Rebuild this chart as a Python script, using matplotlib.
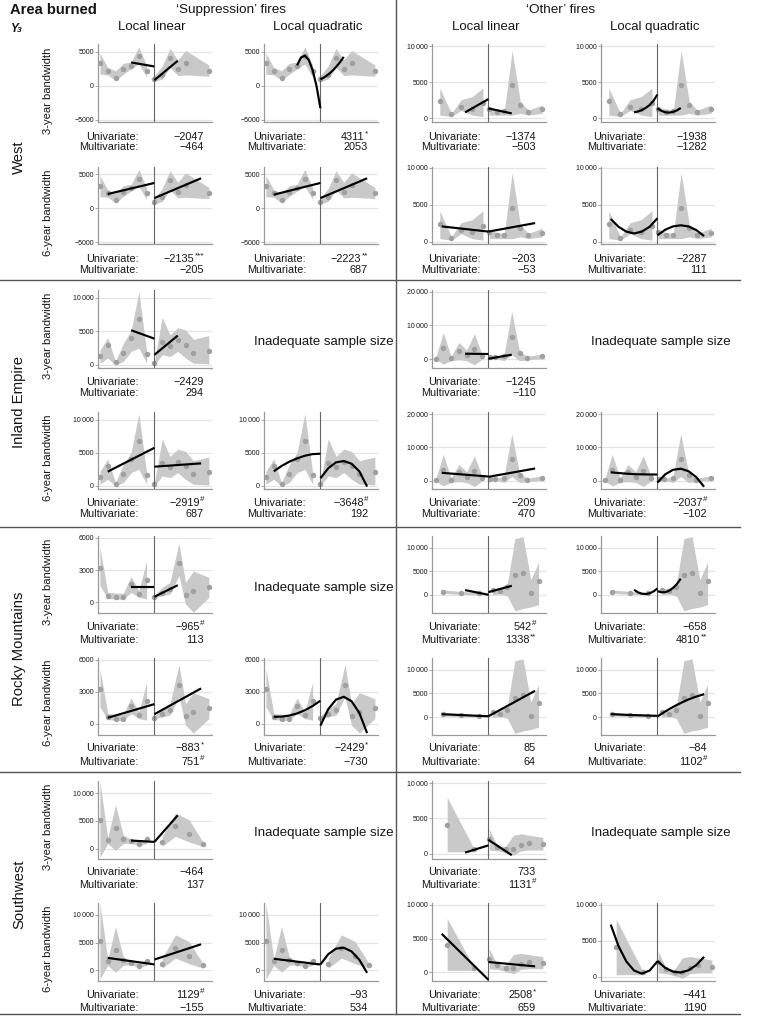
import matplotlib as mpl
mpl.use('Agg')
import matplotlib.pyplot as plt
import numpy as np

plt.rcParams['font.family'] = ['Liberation Sans', 'DejaVu Sans']

W, H = 782, 1019

REGIONS = ['West', 'Inland Empire', 'Rocky Mountains', 'Southwest']
FIRE_TYPES = ['\u2018Suppression\u2019 fires', '\u2018Other\u2019 fires']
FIT_NAMES = ['Local linear', 'Local quadratic']
BANDWIDTHS = ['3-year bandwidth', '6-year bandwidth']

# x values the fitted lines were read at (left of threshold, right of threshold)
LIN3_X = ([-3, 0], [0, 3])
QUAD3_X = ([-3, -2.5, -2, -1.5, -1, -0.5, 0], [0, 0.5, 1, 1.5, 2, 2.5, 3])
LIN6_X = ([-6, 0], [0, 6])
QUAD6_X = ([-6, -5, -4, -3, -2, -1, 0], [0, 1, 2, 3, 4, 5, 6])

# ---- West ----
WEST_SUP_X = [-7, -6, -5, -4, -3, -2, -1, 0, 1, 2, 3, 4, 7]
WEST_SUP_Y = [3280, 2200, 1180, 2400, 2940, 4360, 2200, 930, 1570, 4120, 2450, 3380, 2160]
WEST_SUP_LO = [1700, 1600, 800, 1700, 2500, 3200, 1300, 600, 1000, 2700, 1500, 1600, 1400]
WEST_SUP_HI = [4800, 2700, 2200, 3300, 3500, 5700, 3000, 1500, 2900, 5500, 3800, 5200, 3050]
WEST_SUP_LIN3 = ([3430, 2840], [830, 3680])
WEST_SUP_QUAD3 = ([3000, 4150, 4430, 3800, 2300, -50, -3300], [950, 1250, 1650, 2150, 2750, 3450, 4250])
WEST_SUP_LIN6 = ([2080, 3710], [1490, 4400])
WEST_SUP_QUAD6 = ([1980, 2270, 2560, 2850, 3140, 3420, 3710], [1490, 1970, 2450, 2940, 3420, 3910, 4400])

WEST_OTH_X = [-6.25, -4.75, -3.5, -2.1, -0.7, 0.1, 1.05, 2.05, 3.05, 4.1, 5.15, 6.9]
WEST_OTH_Y = [2400, 550, 1550, 1300, 2100, 1300, 950, 1000, 4550, 1900, 950, 1250]
WEST_OTH_LO = [450, 250, 1100, 450, 250, 450, 450, 450, 450, 700, 450, 700]
WEST_OTH_HI = [4200, 700, 2600, 3000, 4200, 1600, 1300, 1150, 9350, 2300, 1150, 1850]
WEST_OTH_LIN3 = ([830, 2670], [1380, 690])
WEST_OTH_QUAD3 = ([850, 950, 1150, 1450, 1850, 2450, 3300], [1400, 1050, 850, 800, 900, 1100, 1450])
WEST_OTH_LIN6 = ([2100, 1400], [1400, 2550])
WEST_OTH_QUAD6 = ([3100, 2050, 1400, 1150, 1400, 2050, 3200], [900, 1650, 2100, 2250, 2100, 1600, 800])

# ---- Inland Empire ----
IE_SUP_X = [-7, -6, -5, -4, -3, -2, -1, 0, 1, 2, 3, 4, 5, 7]
IE_SUP_Y = [1340, 2970, 350, 1730, 4060, 6830, 1630, 250, 3470, 2870, 3660, 2970, 1830, 2130]
IE_SUP_LO = [250, 1000, 0, 500, 2000, 2500, 250, 0, 1500, 1240, 2000, 1000, 250, 150]
IE_SUP_HI = [2200, 4060, 500, 3200, 5050, 10900, 2000, 500, 7100, 4450, 5550, 5200, 3800, 4350]
IE_SUP_LIN3 = ([5150, 3900], [1490, 4360])
IE_SUP_LIN6 = ([2150, 5750], [2900, 3400])
IE_SUP_QUAD6 = ([2200, 3000, 3650, 4150, 4550, 4800, 4850], [1150, 2650, 3550, 3750, 3350, 2200, -100])

IE_OTH_X = [-6.8, -5.8, -4.8, -3.8, -2.8, -1.8, -0.8, 0.2, 0.9, 2.0, 3.0, 4.0, 5.0, 6.9]
IE_OTH_Y = [150, 3300, 200, 2500, 1300, 3000, 1000, 500, 500, 1000, 6500, 1700, 300, 800]
IE_OTH_LO = [0, -1500, -500, -200, -500, -1700, 0, 200, 200, -500, 1300, -500, -200, 100]
IE_OTH_HI = [300, 7900, 800, 4900, 2750, 7500, 1300, 700, 700, 1300, 14100, 2300, 800, 1500]
IE_OTH_LIN3 = ([1600, 1500], [100, 1300])
IE_OTH_LIN6 = ([2400, 1300], [1200, 3700])
IE_OTH_QUAD6 = ([2550, 2350, 2150, 2000, 1950, 1900, 1900], [-500, 1940, 3310, 3630, 2890, 1090, -1770])

# ---- Rocky Mountains ----
RM_SUP_X = [-7, -6, -5, -4, -3, -2, -1, 0, 1, 2, 3.15, 4, 5, 7]
RM_SUP_Y = [3220, 630, 470, 470, 1670, 760, 2110, 540, 850, 1260, 3630, 690, 1040, 1420]
RM_SUP_LO = [1560, 375, 310, 300, 940, 470, 310, 470, 625, 780, 2500, -150, -900, 470]
RM_SUP_HI = [5150, 940, 875, 850, 2400, 1100, 3900, 690, 1400, 1875, 5530, 1875, 2900, 2340]
RM_SUP_LIN3 = ([1470, 1470], [530, 1600])
RM_SUP_LIN6 = ([540, 1830], [880, 3310])
RM_SUP_QUAD6 = ([630, 650, 750, 950, 1250, 1650, 2150], [-200, 1350, 2250, 2520, 2100, 1000, -900])

RM_OTH_X = [-5.85, -3.55, -1.2, 0.55, 1.5, 2.45, 3.4, 4.45, 5.45, 6.45]
RM_OTH_Y = [650, 400, 300, 1100, 700, 1550, 4100, 4600, 300, 2950]
RM_OTH_LO = [300, 100, 0, 0, 200, -300, -3400, -2900, -2600, -2100]
RM_OTH_HI = [1050, 700, 500, 1300, 1400, 2500, 11900, 12300, 3200, 6900]
RM_OTH_LIN3 = ([990, 0], [560, 1900])
RM_OTH_QUAD3 = ([1050, 520, 220, 155, 315, 705, 1325], [770, 520, 550, 850, 1430, 2280, 3400])
RM_OTH_LIN6 = ([630, 200], [200, 5560])
RM_OTH_QUAD6 = ([650, 570, 500, 440, 390, 330, 280], [150, 1200, 2150, 3000, 3750, 4350, 4850])

# ---- Southwest ----
SW_SUP_X = [-7, -6, -5, -4, -3, -2, -1, 1.0, 2.7, 4.45, 6.2]
SW_SUP_Y = [5200, 1600, 3750, 1800, 1400, 850, 1650, 1100, 4100, 2650, 900]
SW_SUP_LO = [-1600, 900, -350, 900, 1000, 500, 900, 400, 2200, 1200, 400]
SW_SUP_HI = [12100, 2000, 7900, 2400, 1700, 1200, 2000, 2200, 6400, 5200, 1300]
SW_SUP_LIN3 = ([1440, 1200], [1200, 6000])
SW_SUP_LIN6 = ([2240, 1060], [1940, 4700])
SW_SUP_QUAD6 = ([2100, 1900, 1750, 1550, 1400, 1200, 1050], [1050, 2900, 3910, 4080, 3410, 1890, -470])

SW_OTH_X = [-5.3, -1.9, 0.1, 1.15, 2.2, 3.2, 4.2, 5.2, 7.0]
SW_OTH_Y = [4100, 600, 2000, 1000, 650, 600, 1250, 1550, 1350]
SW_OTH_LO = [250, 250, 500, 400, 100, -250, 400, 500, 500]
SW_OTH_HI = [8000, 800, 3500, 1100, 1000, 2600, 2800, 2600, 2300]
SW_OTH_LIN3 = ([140, 1160], [1950, -230])
SW_OTH_LIN6 = ([5700, -1150], [1500, 850])
SW_OTH_QUAD6 = ([7250, 4250, 2110, 830, 400, 830, 2110], [2170, 1210, 675, 560, 870, 1600, 2750])

# y ticks for each region / fire type
TICKS = {
    (0, 0): [-5000, 0, 5000], (0, 1): [0, 5000, 10000],
    (1, 0): [0, 5000, 10000], (1, 1): [0, 10000, 20000],
    (2, 0): [0, 3000, 6000], (2, 1): [0, 5000, 10000],
    (3, 0): [0, 5000, 10000], (3, 1): [0, 5000, 10000],
}

# univariate / multivariate estimates, rows = region x bandwidth, cols = panels
UNIV = [
    ['-2047', '4311*', '-1374', '-1938'],
    ['-2135***', '-2223**', '-203', '-2287'],
    ['-2429', None, '-1245', None],
    ['-2919#', '-3648#', '-209', '-2037#'],
    ['-965#', None, '542#', '-658'],
    ['-883*', '-2429*', '85', '-84'],
    ['-464', None, '733', None],
    ['1129#', '-93', '2508*', '-441'],
]
MULTI = [
    ['-464', '2053', '-503', '-1282'],
    ['-205', '687', '-53', '111'],
    ['294', None, '-110', None],
    ['687', '192', '470', '-102'],
    ['113', None, '1338**', '4810**'],
    ['751#', '-730', '64', '1102#'],
    ['137', None, '1131#', None],
    ['-155', '534', '659', '1190'],
]

# layout, in pixels of the output image
COL_LEFT = [98, 264, 432, 601]
AX_W = 114
ROW_TOP = [44.3, 166.7, 290, 411.7, 535.7, 657.7, 781, 903.3]
AX_H = 77.5
UNIV_Y = [137, 259, 382, 503, 627, 748, 872, 995]
MULTI_Y = [147, 270, 393, 514, 640, 762, 885, 1008]
LABEL_RX = [139, 306, 481, 646]
VALUE_RX = [204, 368, 536, 707]
XLIM = (-7.25, 7.4)

YLIMS = [
    [(-5300, 6100), (-5300, 6100), (-470, 10240), (-470, 10240)],
    [(-5300, 6100), (-5300, 6100), (-300, 10150), (-300, 10150)],
    [(-400, 11150), None, (-2500, 20500), None],
    [(-500, 11200), (-500, 11200), (-2500, 20700), (-2500, 20700)],
    [(-1000, 6200), None, (-3900, 12500), (-3900, 12500)],
    [(-1100, 6200), (-1100, 6200), (-3800, 12550), (-3800, 12550)],
    [(-1800, 12200), None, (-700, 10300), None],
    [(-1900, 12100), (-1900, 12100), (-1300, 10250), (-600, 10230)],
]

BAND = '#c9c9c9'
DOT = '#a0a0a0'
GRID = '#e4e4e4'
SPINE = '#999999'
VLINE = '#666666'
SEP = '#555555'
TXT = '#151515'


def fxy(px, py):
    return px / W, 1 - py / H


def tick_label(v):
    a = abs(v)
    s = '{:,}'.format(a).replace(',', '\u2009') if a >= 10000 else str(a)
    return ('\u2212' if v < 0 else '') + s


def put_stat(fig, s, rx, py):
    num = s.rstrip('*#')
    sig = s[len(num):]
    num = num.replace('-', '\u2212')
    sig_w = sum(4.2 if c == '#' else 3.3 for c in sig)
    x, y = fxy(rx - sig_w, py)
    fig.text(x, y, num, ha='right', va='center', fontsize=7.8, color=TXT)
    if sig:
        x2, y2 = fxy(rx - sig_w + 0.3, py - 3.3)
        fig.text(x2, y2, sig, ha='left', va='center', fontsize=5.8, color=TXT)


def draw_panel(ax, data, fit_x, fit_y, ylim, ticks):
    x, y, lo, hi = [np.array(a, dtype=float) for a in data]
    left = x < 0
    for m in (left, ~left):
        ax.fill_between(x[m], lo[m], hi[m], color=BAND, lw=0, zorder=1)
    ax.plot(x, y, 'o', ms=3.9, color=DOT, mec='none', zorder=2)
    ax.axvline(0, color=VLINE, lw=0.8, zorder=3)
    for xs, ys in zip(fit_x, fit_y):
        ax.plot(xs, ys, color='black', lw=1.55, zorder=4, solid_capstyle='butt')

    ax.set_xlim(*XLIM)
    ax.set_ylim(*ylim)
    ax.set_yticks(ticks, labels=[tick_label(t) for t in ticks])
    ax.set_xticks([])
    ax.yaxis.grid(True, color=GRID, lw=0.9)
    ax.set_axisbelow(True)
    ax.tick_params(axis='y', length=2, width=0.6, color=SPINE, labelsize=5.0, pad=1, labelcolor=TXT)
    for sp in ('top', 'right'):
        ax.spines[sp].set_visible(False)
    for sp in ('left', 'bottom'):
        ax.spines[sp].set_color(SPINE)
        ax.spines[sp].set_linewidth(0.9)


def main():
    datasets = {
        (0, 0): (WEST_SUP_X, WEST_SUP_Y, WEST_SUP_LO, WEST_SUP_HI),
        (0, 1): (WEST_OTH_X, WEST_OTH_Y, WEST_OTH_LO, WEST_OTH_HI),
        (1, 0): (IE_SUP_X, IE_SUP_Y, IE_SUP_LO, IE_SUP_HI),
        (1, 1): (IE_OTH_X, IE_OTH_Y, IE_OTH_LO, IE_OTH_HI),
        (2, 0): (RM_SUP_X, RM_SUP_Y, RM_SUP_LO, RM_SUP_HI),
        (2, 1): (RM_OTH_X, RM_OTH_Y, RM_OTH_LO, RM_OTH_HI),
        (3, 0): (SW_SUP_X, SW_SUP_Y, SW_SUP_LO, SW_SUP_HI),
        (3, 1): (SW_OTH_X, SW_OTH_Y, SW_OTH_LO, SW_OTH_HI),
    }
    fits = {
        (0, 0): {'lin3': WEST_SUP_LIN3, 'quad3': WEST_SUP_QUAD3, 'lin6': WEST_SUP_LIN6, 'quad6': WEST_SUP_QUAD6},
        (0, 1): {'lin3': WEST_OTH_LIN3, 'quad3': WEST_OTH_QUAD3, 'lin6': WEST_OTH_LIN6, 'quad6': WEST_OTH_QUAD6},
        (1, 0): {'lin3': IE_SUP_LIN3, 'lin6': IE_SUP_LIN6, 'quad6': IE_SUP_QUAD6},
        (1, 1): {'lin3': IE_OTH_LIN3, 'lin6': IE_OTH_LIN6, 'quad6': IE_OTH_QUAD6},
        (2, 0): {'lin3': RM_SUP_LIN3, 'lin6': RM_SUP_LIN6, 'quad6': RM_SUP_QUAD6},
        (2, 1): {'lin3': RM_OTH_LIN3, 'quad3': RM_OTH_QUAD3, 'lin6': RM_OTH_LIN6, 'quad6': RM_OTH_QUAD6},
        (3, 0): {'lin3': SW_SUP_LIN3, 'lin6': SW_SUP_LIN6, 'quad6': SW_SUP_QUAD6},
        (3, 1): {'lin3': SW_OTH_LIN3, 'lin6': SW_OTH_LIN6, 'quad6': SW_OTH_QUAD6},
    }
    fit_grid = {'lin3': LIN3_X, 'quad3': QUAD3_X, 'lin6': LIN6_X, 'quad6': QUAD6_X}

    fig = plt.figure(figsize=(W / 100, H / 100), dpi=100)

    for row in range(8):
        region = row // 2
        bw = 3 if row % 2 == 0 else 6
        for col in range(4):
            fire = col // 2
            kind = ('lin' if col % 2 == 0 else 'quad') + str(bw)
            ylim = YLIMS[row][col]
            if ylim is None:
                cx = COL_LEFT[col] + AX_W / 2 + 3
                x, y = fxy(cx, ROW_TOP[row] + 52)
                fig.text(x, y, 'Inadequate sample size', ha='center', va='center',
                         fontsize=9.5, color=TXT)
                continue
            l, b = fxy(COL_LEFT[col], ROW_TOP[row] + AX_H)
            ax = fig.add_axes([l, b, AX_W / W, AX_H / H])
            draw_panel(ax, datasets[(region, fire)], fit_grid[kind],
                       fits[(region, fire)][kind], ylim, TICKS[(region, fire)])

            for lab, vals, py in (('Univariate:', UNIV, UNIV_Y[row]),
                                  ('Multivariate:', MULTI, MULTI_Y[row])):
                x, y = fxy(LABEL_RX[col], py)
                fig.text(x, y, lab, ha='right', va='center', fontsize=7.8, color=TXT)
                put_stat(fig, vals[row][col], VALUE_RX[col], py)

        # bandwidth label
        x, y = fxy(48, (ROW_TOP[row] + UNIV_Y[row]) / 2)
        fig.text(x, y, BANDWIDTHS[row % 2], rotation=90, ha='center', va='center',
                 fontsize=8.1, color=TXT)

    # region labels
    for r, name in enumerate(REGIONS):
        x, y = fxy(19, (ROW_TOP[2 * r] + MULTI_Y[2 * r + 1]) / 2)
        fig.text(x, y, name, rotation=90, ha='center', va='center', fontsize=10.7, color=TXT)

    # headers
    x, y = fxy(10, 10)
    fig.text(x, y, 'Area burned', ha='left', va='center', fontsize=10.6, fontweight='bold', color=TXT)
    x, y = fxy(10, 29)
    fig.text(x, y, 'Y', ha='left', va='center', fontsize=8.5, fontweight='bold', fontstyle='italic', color=TXT)
    x, y = fxy(16.5, 31)
    fig.text(x, y, '3', ha='left', va='center', fontsize=6, fontweight='bold', fontstyle='italic', color=TXT)

    for i, name in enumerate(FIRE_TYPES):
        x, y = fxy([231, 561][i], 10)
        fig.text(x, y, name, ha='center', va='center', fontsize=9.7, color=TXT)
    for col in range(4):
        x, y = fxy(COL_LEFT[col] + AX_W / 2 - 3, 27)
        fig.text(x, y, FIT_NAMES[col % 2], ha='center', va='center', fontsize=9.5, color=TXT)

    # separators
    for py in (280, 527, 772, 1014):
        fig.add_artist(plt.Line2D([0, 740 / W], [1 - py / H] * 2, color=SEP, lw=1.0))
    fig.add_artist(plt.Line2D([396 / W] * 2, [1, 1 - 1014 / H], color=SEP, lw=1.0))

    fig.savefig('out.png', dpi=100)


if __name__ == '__main__':
    main()
